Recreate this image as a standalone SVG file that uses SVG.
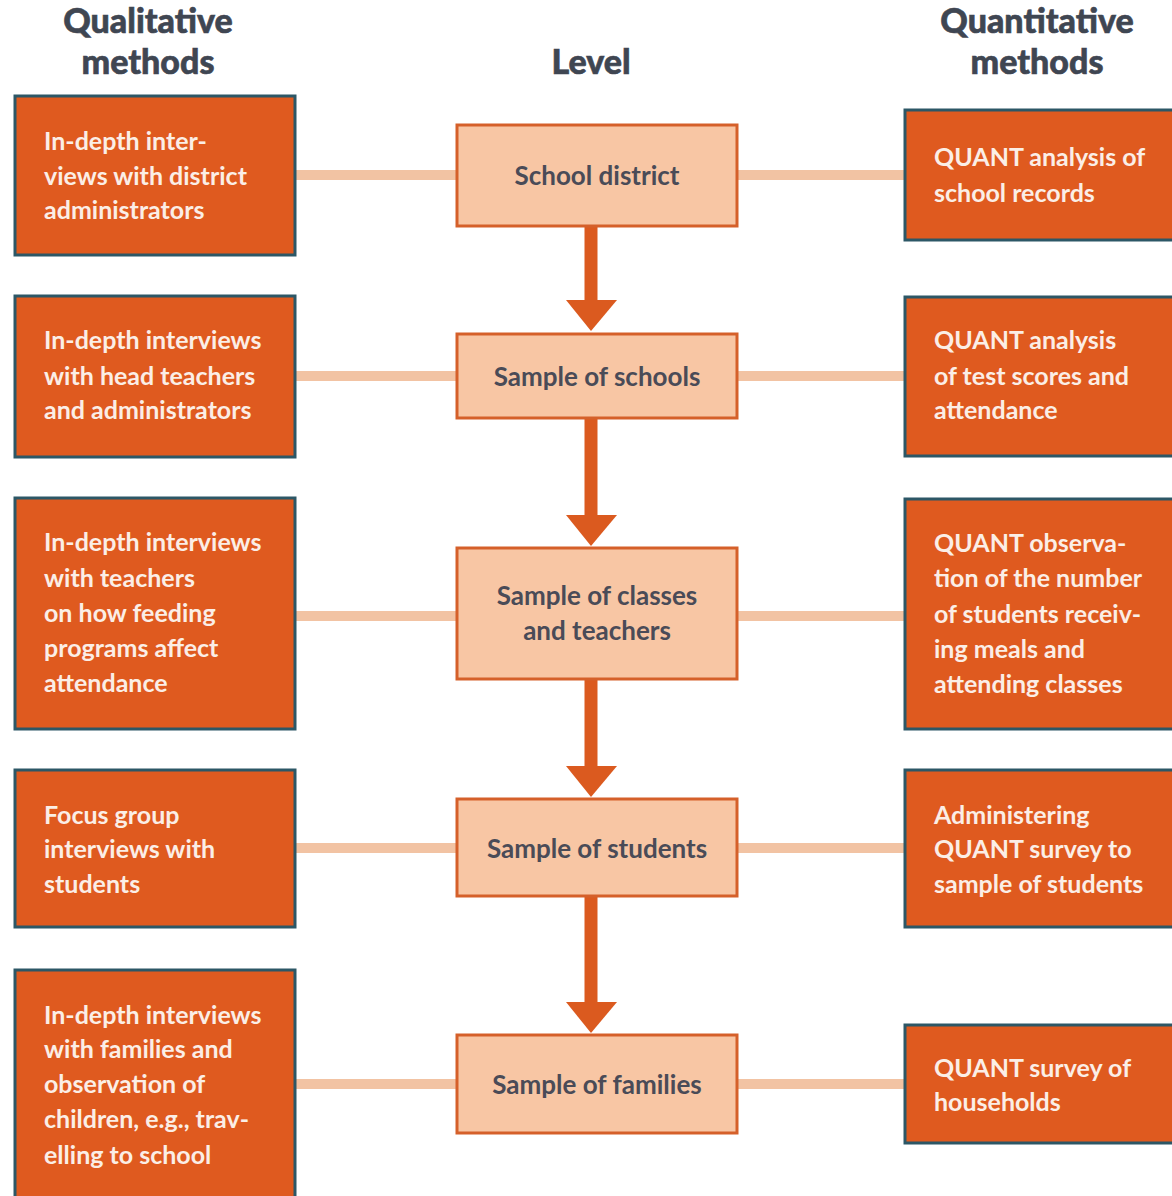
<svg xmlns="http://www.w3.org/2000/svg" width="1172" height="1196" viewBox="0 0 1172 1196">
<style>
.hdr{font-family:Lato,"Open Sans",sans-serif;font-weight:900;font-size:34px;fill:#3f4652;text-anchor:middle;stroke:#3f4652;stroke-width:0.6}
.ob{fill:#df5a1f;stroke:#2c5766;stroke-width:3}
.lv{fill:#f8c6a4;stroke:#d5602a;stroke-width:3}
.ot{font-family:Lato,"Open Sans",sans-serif;font-weight:700;font-size:25px;fill:#fbeee6}
.lt{font-family:Lato,"Open Sans",sans-serif;font-weight:700;font-size:26px;fill:#4a4b57;text-anchor:middle}
.ln{stroke:#f2c3a3;stroke-width:10;fill:none}
.sh{stroke:#db5a1f;stroke-width:13;fill:none}
.ah{fill:#db5a1f}
</style>
<rect width="1172" height="1196" fill="#ffffff"/>
<g id="headers">
<text class="hdr" x="148" y="33">Qualitative</text>
<text class="hdr" x="148" y="74">methods</text>
<text class="hdr" x="591" y="74">Level</text>
<text class="hdr" x="1037" y="33">Quantitative</text>
<text class="hdr" x="1037" y="74">methods</text>
</g>
<g id="connectors">
<line class="ln" x1="295" y1="175" x2="457" y2="175"/>
<line class="ln" x1="737" y1="175" x2="905" y2="175"/>
<line class="ln" x1="295" y1="376" x2="457" y2="376"/>
<line class="ln" x1="737" y1="376" x2="905" y2="376"/>
<line class="ln" x1="295" y1="616" x2="457" y2="616"/>
<line class="ln" x1="737" y1="616" x2="905" y2="616"/>
<line class="ln" x1="295" y1="848" x2="457" y2="848"/>
<line class="ln" x1="737" y1="848" x2="905" y2="848"/>
<line class="ln" x1="295" y1="1084" x2="457" y2="1084"/>
<line class="ln" x1="737" y1="1084" x2="905" y2="1084"/>
<line class="sh" x1="591" y1="226" x2="591" y2="302"/>
<polygon class="ah" points="566,300 617,300 591,331"/>
<line class="sh" x1="591" y1="418" x2="591" y2="517"/>
<polygon class="ah" points="566,515 617,515 591,546"/>
<line class="sh" x1="591" y1="679" x2="591" y2="768"/>
<polygon class="ah" points="566,766 617,766 591,797"/>
<line class="sh" x1="591" y1="896" x2="591" y2="1004"/>
<polygon class="ah" points="566,1002 617,1002 591,1033"/>
</g>
<g id="qual1"><rect class="ob" x="15" y="96" width="280" height="159"/>
<text class="ot" x="44" y="150">In-depth inter-</text><text class="ot" x="44" y="185">views with district</text><text class="ot" x="44" y="219">administrators</text></g>
<g id="qual2"><rect class="ob" x="15" y="296" width="280" height="161"/>
<text class="ot" x="44" y="349">In-depth interviews</text><text class="ot" x="44" y="385">with head teachers</text><text class="ot" x="44" y="419">and administrators</text></g>
<g id="qual3"><rect class="ob" x="15" y="498" width="280" height="231"/>
<text class="ot" x="44" y="551">In-depth interviews</text><text class="ot" x="44" y="587">with teachers</text><text class="ot" x="44" y="622">on how feeding</text><text class="ot" x="44" y="657">programs affect</text><text class="ot" x="44" y="692">attendance</text></g>
<g id="qual4"><rect class="ob" x="15" y="770" width="280" height="157"/>
<text class="ot" x="44" y="824">Focus group</text><text class="ot" x="44" y="858">interviews with</text><text class="ot" x="44" y="893">students</text></g>
<g id="qual5"><rect class="ob" x="15" y="970" width="280" height="240"/>
<text class="ot" x="44" y="1024">In-depth interviews</text><text class="ot" x="44" y="1058">with families and</text><text class="ot" x="44" y="1093">observation of</text><text class="ot" x="44" y="1128">children, e.g., trav-</text><text class="ot" x="44" y="1164">elling to school</text></g>
<g id="level1"><rect class="lv" x="457" y="125" width="280" height="101"/><text class="lt" x="597" y="185">School district</text></g>
<g id="level2"><rect class="lv" x="457" y="334" width="280" height="84"/><text class="lt" x="597" y="386">Sample of schools</text></g>
<g id="level3"><rect class="lv" x="457" y="548" width="280" height="131"/><text class="lt" x="597" y="605">Sample of classes</text><text class="lt" x="597" y="640">and teachers</text></g>
<g id="level4"><rect class="lv" x="457" y="799" width="280" height="97"/><text class="lt" x="597" y="858">Sample of students</text></g>
<g id="level5"><rect class="lv" x="457" y="1035" width="280" height="98"/><text class="lt" x="597" y="1094">Sample of families</text></g>
<g id="quant1"><rect class="ob" x="905" y="110" width="280" height="130"/>
<text class="ot" x="934" y="166">QUANT analysis of</text><text class="ot" x="934" y="202">school records</text></g>
<g id="quant2"><rect class="ob" x="905" y="297" width="280" height="159"/>
<text class="ot" x="934" y="349">QUANT analysis</text><text class="ot" x="934" y="385">of test scores and</text><text class="ot" x="934" y="419">attendance</text></g>
<g id="quant3"><rect class="ob" x="905" y="499" width="280" height="230"/>
<text class="ot" x="934" y="552">QUANT observa-</text><text class="ot" x="934" y="587">tion of the number</text><text class="ot" x="934" y="623">of students receiv-</text><text class="ot" x="934" y="658">ing meals and</text><text class="ot" x="934" y="693">attending classes</text></g>
<g id="quant4"><rect class="ob" x="905" y="770" width="280" height="157"/>
<text class="ot" x="934" y="824">Administering</text><text class="ot" x="934" y="858">QUANT survey to</text><text class="ot" x="934" y="893">sample of students</text></g>
<g id="quant5"><rect class="ob" x="905" y="1025" width="280" height="118"/>
<text class="ot" x="934" y="1077">QUANT survey of</text><text class="ot" x="934" y="1111">households</text></g>
</svg>
